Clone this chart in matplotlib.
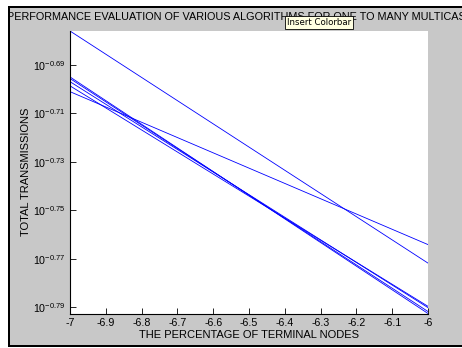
import numpy as np
import matplotlib.pyplot as plt
from matplotlib.patches import Rectangle

# x positions of the two ends of every line
x_pts = [-7.0, -6.0]

# total transmissions at x=-7 and x=-6, one list per algorithm
alg1 = [0.2108, 0.1691]
alg2 = [0.1990, 0.1721]
alg3 = [0.2018, 0.1612]
alg4 = [0.2015, 0.1615]
alg5 = [0.2009, 0.1621]
alg6 = [0.2001, 0.1623]

x_ticks = [-7, -6.9, -6.8, -6.7, -6.6, -6.5, -6.4, -6.3, -6.2, -6.1, -6]
x_ticklabels = ['-7', '-6.9', '-6.8', '-6.7', '-6.6', '-6.5', '-6.4', '-6.3', '-6.2', '-6.1', '-6']
y_exps = [-0.69, -0.71, -0.73, -0.75, -0.77, -0.79]

title = 'PERFORMANCE EVALUATION OF VARIOUS ALGORITHMS FOR ONE TO MANY MULTICAST'

plt.rcParams['font.family'] = ['Liberation Sans', 'DejaVu Sans']

W, H = 462, 348
fig = plt.figure(figsize=(W / 100, H / 100), dpi=100, facecolor='white')

# window frame: black border and gray client area (behind the axes)
fig.patches.append(Rectangle((8 / W, 1 - 347 / H), 1, 341 / H, transform=fig.transFigure,
                             facecolor='black', edgecolor='none', zorder=-2))
fig.patches.append(Rectangle((10 / W, 1 - 345 / H), 1, 337 / H, transform=fig.transFigure,
                             facecolor='#c8c8c8', edgecolor='none', zorder=-1))

ax = fig.add_axes([70 / W, 1 - 313.5 / H, 358 / W, 282.5 / H])
ax.set_facecolor('white')

for s in [alg1, alg2, alg3, alg4, alg5, alg6]:
    ax.semilogy(x_pts, s, color='#0000ff', lw=0.6)

all_vals = alg1 + alg2 + alg3 + alg4 + alg5 + alg6
ax.set_xlim(-7, -6)
ax.set_ylim(min(all_vals), max(all_vals))

ax.set_xticks(x_ticks)
ax.set_xticklabels(x_ticklabels)
ax.set_yticks([10 ** e for e in y_exps])
ax.set_yticklabels(['$\\mathregular{10^{%.2f}}$' % e for e in y_exps])
ax.yaxis.set_minor_locator(plt.NullLocator())

ax.spines['top'].set_visible(False)
ax.spines['right'].set_visible(False)
for sp in ['left', 'bottom']:
    ax.spines[sp].set_linewidth(0.8)
ax.tick_params(direction='in', length=4, width=0.6, labelsize=7.7, pad=3)

ax.set_xlabel('THE PERCENTAGE OF TERMINAL NODES', fontsize=8, labelpad=2)
ax.set_ylabel('TOTAL TRANSMISSIONS', fontsize=8, labelpad=2)

fig.text(7 / W, 1 - 17 / H, title, ha='left', va='center', fontsize=7.8)

# frame drawn again over the clipped title on the left
fig.patches.append(Rectangle((8 / W, 1 - 347 / H), 2 / W, 341 / H, transform=fig.transFigure,
                             facecolor='black', edgecolor='none', zorder=5))
fig.patches.append(Rectangle((0, 0), 8 / W, 1, transform=fig.transFigure,
                             facecolor='white', edgecolor='none', zorder=5))

# tooltip left on screen
fig.text(287 / W, 1 - 22.5 / H, 'Insert Colorbar', ha='left', va='center', fontsize=6.2,
         family=['DejaVu Sans'], zorder=10,
         bbox=dict(boxstyle='square,pad=0.2', facecolor='#ffffe1', edgecolor='black', lw=0.6))

fig.savefig('out.png', dpi=100)
